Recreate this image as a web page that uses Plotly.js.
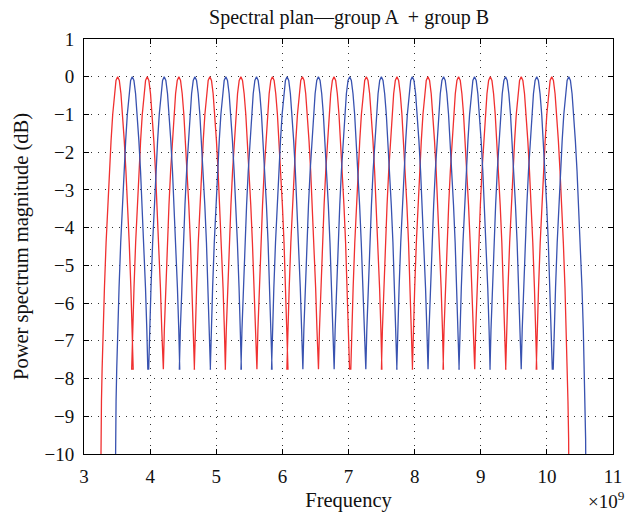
<!DOCTYPE html>
<html>
<head>
<meta charset="utf-8">
<script src="https://cdn.plot.ly/plotly-3.0.1.min.js"></script>
<style>html,body{margin:0;padding:0;background:#fff}#chart{width:629px;height:512px}</style>
</head>
<body>
<div id="chart"></div>
<script>
// Peak centre frequencies (x10^9 Hz)
var redPeaks  = [3.509, 3.956, 4.435, 4.903, 5.372, 5.850, 6.303, 6.781, 7.270, 7.733, 8.201, 8.665, 9.144, 9.612, 10.074];
var bluePeaks = [3.730, 4.213, 4.677, 5.145, 5.609, 6.071, 6.545, 7.018, 7.497, 7.965, 8.438, 8.906, 9.375, 9.847, 10.331];
// One lobe's shape: offset from the peak (x10^9 Hz) and level (dB)
var lobeOffset = [0, 0.025, 0.05, 0.075, 0.1, 0.125, 0.15, 0.175, 0.2, 0.22, 0.235];
var lobeLevel  = [0, -0.1, -0.45, -1.0, -1.7, -2.5, -3.4, -4.4, -5.6, -6.7, -7.75];
// Outer skirts of the first and last lobes (beyond the lobe profile)
var edgeOffset = [0.245, 0.255, 0.262];
var edgeLevel  = [-8.6, -9.6, -12];
var yTicks = [1, 0, -1, -2, -3, -4, -5, -6, -7, -8, -9, -10];
var xTicks = [3, 4, 5, 6, 7, 8, 9, 10, 11];

function buildLine(peaks) {
  var xs = [], ys = [], i, k;
  var c0 = peaks[0], cn = peaks[peaks.length - 1];
  for (i = edgeOffset.length - 1; i >= 0; i--) { xs.push(c0 - edgeOffset[i]); ys.push(edgeLevel[i]); }
  for (k = 0; k < peaks.length; k++) {
    var c = peaks[k];
    for (i = lobeOffset.length - 1; i >= 1; i--) { xs.push(c - lobeOffset[i]); ys.push(lobeLevel[i]); }
    for (i = 0; i < lobeOffset.length; i++) { xs.push(c + lobeOffset[i]); ys.push(lobeLevel[i]); }
  }
  for (i = 0; i < edgeOffset.length; i++) { xs.push(cn + edgeOffset[i]); ys.push(edgeLevel[i]); }
  return {x: xs, y: ys};
}

var r = buildLine(redPeaks), b = buildLine(bluePeaks);
var fam = '"Liberation Serif", "DejaVu Serif", serif';
var tickFont = {family: fam, color: '#111', size: 19};
var titleFont = {family: fam, color: '#111', size: 20.5};
var traces = [
  {x: r.x, y: r.y, mode: 'lines', line: {color: '#f03030', width: 1.3}, hoverinfo: 'skip', showlegend: false},
  {x: b.x, y: b.y, mode: 'lines', line: {color: '#3852b0', width: 1.3}, hoverinfo: 'skip', showlegend: false}
];
var axisCommon = {
  showline: true, linecolor: '#000', linewidth: 1, mirror: 'ticks',
  ticks: 'inside', ticklen: 5, tickcolor: '#000', tickwidth: 1,
  showgrid: true, gridcolor: '#333', gridwidth: 1, griddash: '1px,6px',
  zeroline: false, tickfont: tickFont, ticklabelstandoff: 5
};
var layout = {
  width: 629, height: 512,
  margin: {l: 84, r: 15.5, t: 38.5, b: 58},
  paper_bgcolor: '#fff', plot_bgcolor: '#fff',
  font: tickFont,
  title: {text: 'Spectral plan\u2014group A  + group B', font: {family: fam, size: 20, color: '#111'}, x: 0.555, xanchor: 'center', y: 0.966, yanchor: 'middle'},
  xaxis: Object.assign({}, axisCommon, {
    range: [3, 11], tickvals: xTicks, ticktext: xTicks.map(String),
    title: {text: 'Frequency', font: titleFont, standoff: 8}
  }),
  yaxis: Object.assign({}, axisCommon, {
    range: [-10, 1], tickvals: yTicks,
    title: {text: 'Power spectrum magnitude (dB)', font: titleFont, standoff: 10}
  }),
  annotations: [{
    text: '\u00d710<sup>9</sup>', xref: 'paper', yref: 'paper', x: 1.027, y: -0.078,
    xanchor: 'right', yanchor: 'top', showarrow: false, font: tickFont
  }]
};
Plotly.newPlot('chart', traces, layout, {displayModeBar: false, staticPlot: true});
</script>
</body>
</html>
